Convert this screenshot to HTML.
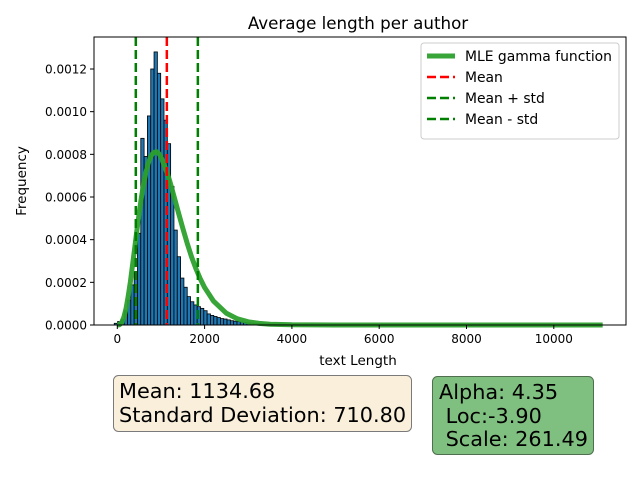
<!DOCTYPE html>
<html><head><meta charset="utf-8"><style>
body{margin:0;background:#fff;}
svg{display:block;font-family:"DejaVu Sans","Liberation Sans",sans-serif;}
</style></head><body>
<svg id="chart" width="640" height="480" viewBox="0 0 640 480">
<text x="358" y="29" font-size="16.7" text-anchor="middle">Average length per author</text>
<g id="bars"></g>
<g id="curve"></g>
<g id="vlines"></g>
<rect x="94" y="37" width="532" height="288" fill="none" stroke="#000" stroke-width="1"/>
<g id="xticks"></g>
<g id="yticks"></g>
<text x="358" y="365" font-size="13.5" text-anchor="middle">text Length</text>
<text transform="translate(26,181) rotate(-90)" font-size="13.5" text-anchor="middle">Frequency</text>
<g>
<rect x="421" y="43" width="198" height="96" rx="3" fill="#fff" fill-opacity="0.8" stroke="#ccc"/>
<line x1="427" y1="56" x2="455" y2="56" stroke="#2ca02c" stroke-opacity="0.95" stroke-width="5"/>
<text x="465" y="61" font-size="13.9">MLE gamma function</text>
<line x1="427" y1="77" x2="455" y2="77" stroke="#ff0000" stroke-width="2.5" stroke-dasharray="9,4"/>
<text x="465" y="82" font-size="13.9">Mean</text>
<line x1="427" y1="98" x2="455" y2="98" stroke="#008000" stroke-width="2.5" stroke-dasharray="9,4"/>
<text x="465" y="103" font-size="13.9">Mean + std</text>
<line x1="427" y1="119" x2="455" y2="119" stroke="#008000" stroke-width="2.5" stroke-dasharray="9,4"/>
<text x="465" y="124" font-size="13.9">Mean - std</text>
</g>
<g>
<rect x="113.5" y="375.5" width="298" height="56" rx="5" fill="#f9efda" stroke="#7a7a7a"/>
<text x="119" y="398" font-size="20.8">Mean: 1134.68</text>
<text x="119" y="422" font-size="20.8">Standard Deviation: 710.80</text>
</g>
<g>
<rect x="432.5" y="376.5" width="161" height="78" rx="5" fill="#7fbf7f" stroke="#4f6f4f"/>
<text x="439" y="399" font-size="20.8">Alpha: 4.35</text>
<text x="439" y="423" font-size="20.8" xml:space="preserve"> Loc:-3.90</text>
<text x="439" y="446" font-size="20.8" xml:space="preserve"> Scale: 261.49</text>
</g>
</svg>
<script>
const binStart = -70;
const binWidth = 76;
const binValues = [0.000008,0.000016,0.000027,0.000067,0.000117,0.000188,0.00025,0.00043,0.000875,0.00079,0.00098,0.0012,0.00128,0.00118,0.00106,0.00096,0.00085,0.00065,0.000445,0.00032,0.00022,0.000177,0.000133,0.000109,0.000094,0.000086,0.000078,0.000067,0.000052,0.000045,0.00004,0.000035,0.00003,0.000028,0.000024,0.00002,0.000018,0.000016,0.000014,0.000012,0.00001,0.000009,0.000008,0.000007,0.000006,0.000005,0.000005,0.000004,0.000004,0.000003,0.000003,0.000003,0.000002,0.000002,0.000002,0.000002,0.000001,0.000001,0.000001,0.000001];
const curveX = [0,50,100,150,200,250,300,350,400,450,500,550,600,650,700,750,800,850,900,950,1000,1100,1200,1300,1400,1500,1600,1700,1800,1900,2000,2200,2500,2750,3000,3250,3500,4000,5000,11120];
const curveY = [0,0.0000012,0.000011,0.000037,0.0000765,0.000135,0.000203,0.000283,0.000363,0.000445,0.000523,0.000595,0.000658,0.00071,0.000752,0.000782,0.000801,0.00081,0.000812,0.000804,0.000788,0.000737,0.000676,0.000602,0.000527,0.000454,0.000384,0.00032,0.000265,0.000217,0.000176,0.000113,0.000055,0.000029,0.000015,0.0000075,0.0000037,0.0000009,0,0];
const meanVal = 1134.68;
const stdVal = 710.80;
const xTicks = [0,2000,4000,6000,8000,10000];
const yTicks = [0,0.0002,0.0004,0.0006,0.0008,0.0010,0.0012];
const NS = 'http://www.w3.org/2000/svg';
function xPx(v){return 117.3 + v*0.04365;}
function yPx(v){return 325 - v*(256/0.0012);}
function mk(tag, attrs, parent){const e=document.createElementNS(NS,tag);for(const k in attrs)e.setAttribute(k,attrs[k]);parent.appendChild(e);return e;}
const bars=document.getElementById('bars');
binValues.forEach((v,i)=>{
  const x0=xPx(binStart+i*binWidth), x1=xPx(binStart+(i+1)*binWidth);
  const r=mk('rect',{x:x0,y:yPx(v),width:x1-x0,height:yPx(0)-yPx(v),fill:'#1f77b4',stroke:'#000','stroke-width':0.8},bars);
  
  
});
const pts=curveX.map((x,i)=>xPx(x).toFixed(2)+','+yPx(curveY[i]).toFixed(2)).join(' ');
const pl=mk('polyline',{points:pts,fill:'none',stroke:'#2ca02c','stroke-opacity':0.95,'stroke-width':5,'stroke-linejoin':'round'},document.getElementById('curve'));


const vl=document.getElementById('vlines');
[[meanVal,'#ff0000','mean-line'],[meanVal+stdVal,'#008000','mean-plus-std-line'],[meanVal-stdVal,'#008000','mean-minus-std-line']].forEach(d=>{
  const l=mk('line',{x1:xPx(d[0]),x2:xPx(d[0]),y1:37,y2:325,stroke:d[1],'stroke-width':2.5,'stroke-dasharray':'9,4'},vl);
  
  
});
const xt=document.getElementById('xticks');
xTicks.forEach(t=>{
  const x=xPx(t);
  const l=mk('line',{x1:x,x2:x,y1:325,y2:329,stroke:'#000'},xt);
  
  
  const tx=mk('text',{x:x,y:343,'font-size':12,'text-anchor':'middle'},xt);
  tx.textContent=String(t);
  
  
});
const yt=document.getElementById('yticks');
yTicks.forEach(t=>{
  const y=yPx(t);
  const l=mk('line',{x1:90,x2:94,y1:y,y2:y,stroke:'#000'},yt);
  
  
  const tx=mk('text',{x:87,y:y+4.5,'font-size':12,'text-anchor':'end'},yt);
  tx.textContent=t.toFixed(4);
  
  
});
</script>
</body></html>
